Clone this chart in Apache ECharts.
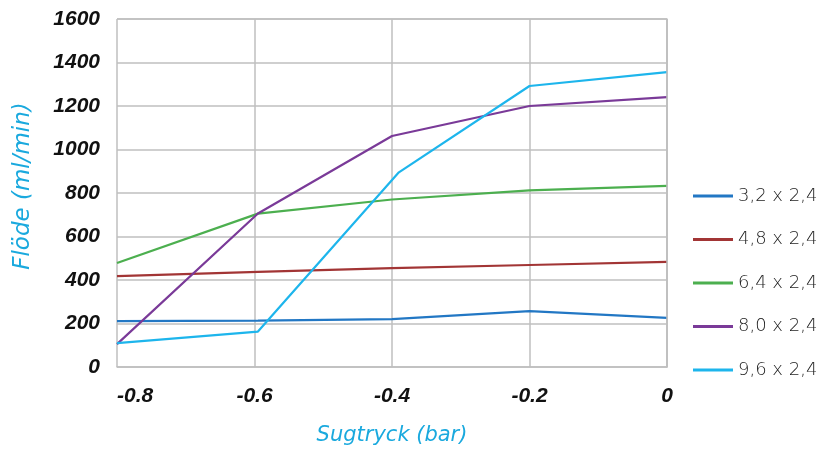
<!DOCTYPE html>
<html><head><meta charset="utf-8">
<script src="https://cdn.jsdelivr.net/npm/echarts@6/dist/echarts.min.js"></script>
<style>html,body{margin:0;padding:0;background:#fff}#c{width:826px;height:454px}</style>
</head><body><div id="c"></div>
<script>
const seriesNames = ['3,2 x 2,4','4,8 x 2,4','6,4 x 2,4','8,0 x 2,4','9,6 x 2,4'];
const xShared = [-0.8, -0.595, -0.4, -0.2, 0];
const xCyan = [-0.8, -0.595, -0.39, -0.2, 0];
const s32 = [211, 213, 220, 257, 226];
const s48 = [418, 437, 455, 469, 483];
const s64 = [478, 705, 770, 812, 833];
const s80 = [105, 706, 1062, 1200, 1241];
const s96 = [110, 163, 895, 1292, 1356];
const colors = ['#2277c4','#a23535','#4caf4f','#7a3a98','#1db5ec'];
const yTicks = [0,200,400,600,800,1000,1200,1400,1600];

const allY = [s32,s48,s64,s80,s96];
const allX = [xShared,xShared,xShared,xShared,xCyan];
const series = allY.map((ys,i)=>({
  name: seriesNames[i], type:'line', showSymbol:false, symbol:'none',
  data: ys.map((v,j)=>[allX[i][j], v]),
  lineStyle:{width:2.2, color:colors[i]}, itemStyle:{color:colors[i]}
}));

const labelFont = {color:'#111', fontSize:21, fontStyle:'italic', fontWeight:'bold', fontFamily:'Liberation Sans'};
const nameFont = {color:'#1aa9de', fontStyle:'italic', fontFamily:'DejaVu Sans'};

const chart = echarts.init(document.getElementById('c'));
chart.setOption({
  animation:false,
  grid:{left:117, top:19, right:159, bottom:87},
  xAxis:{type:'value', min:-0.8, max:0, interval:0.2,
    name:'Sugtryck (bar)', nameLocation:'middle', nameGap:58,
    nameTextStyle:Object.assign({fontSize:21}, nameFont),
    axisLine:{show:true, lineStyle:{color:'#bfbfbf', width:1.5}},
    axisTick:{show:false},
    splitLine:{show:true, lineStyle:{color:'#bfbfbf', width:1.5}},
    axisLabel:Object.assign({margin:19, alignMinLabel:'left',
      formatter:v=>v===0?'0':v.toFixed(1)}, labelFont)
  },
  yAxis:{type:'value', min:0, max:1600, interval:200,
    name:'Flöde (ml/min)', nameLocation:'middle', nameGap:82, nameRotate:90,
    nameTextStyle:Object.assign({fontSize:23, padding:[0,0,0,14]}, nameFont),
    axisLine:{show:true, lineStyle:{color:'#bfbfbf', width:1.5}},
    axisTick:{show:false},
    splitLine:{show:true, lineStyle:{color:'#bfbfbf', width:1.5}},
    axisLabel:Object.assign({margin:17,
      formatter:v=>yTicks.includes(v)?String(v):''}, labelFont)
  },
  legend:{orient:'vertical', left:688, top:181, itemWidth:40, itemHeight:3, itemGap:23.5,
    icon:'rect',
    textStyle:{color:'#222', fontSize:18, lineHeight:20, fontFamily:'DejaVu Sans', fontWeight:200},
    data:seriesNames
  },
  series: series.concat([{type:'line', data:[], silent:true,
    markLine:{silent:true, symbol:'none', label:{show:false},
      lineStyle:{color:'#bfbfbf', width:1.5, type:'solid'},
      data:[{yAxis:1600},{xAxis:0}]}}])
});
</script></body></html>
